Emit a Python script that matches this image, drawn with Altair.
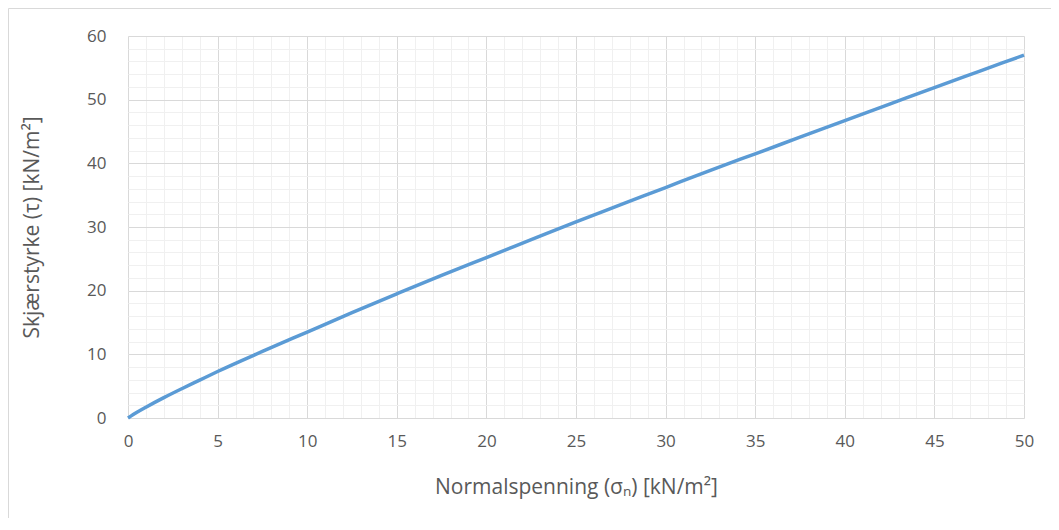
import altair as alt
import pandas as pd

# Data
sigma = [0, 0.5, 1, 2, 3, 4, 5, 7.5, 10, 12.5, 15, 17.5, 20, 22.5, 25, 27.5,
         30, 32.5, 35, 37.5, 40, 42.5, 45, 47.5, 50]
tau = [0, 0.9, 1.7, 3.2, 4.6, 5.95, 7.3, 10.45, 13.5, 16.55, 19.5, 22.4, 25.2, 28.0,
       30.8, 33.5, 36.2, 38.9, 41.5, 44.1, 46.7, 49.3, 51.9, 54.45, 57.0]

x_major = [0, 5, 10, 15, 20, 25, 30, 35, 40, 45, 50]
y_major = [0, 10, 20, 30, 40, 50, 60]
x_minor = list(range(0, 51, 1))
y_minor = list(range(0, 61, 2))

df = pd.DataFrame({"sigma": sigma, "tau": tau})

FONT = "Open Sans"
TEXT = "#595959"

xscale = alt.Scale(domain=[0, 50], nice=False, zero=False)
yscale = alt.Scale(domain=[0, 60], nice=False, zero=False)

minor = alt.Chart(df).mark_line(opacity=0).encode(
    x=alt.X("sigma:Q", scale=xscale,
            axis=alt.Axis(values=x_minor, grid=True, gridColor="#f0f0f0", gridWidth=1,
                          labels=False, ticks=False, domain=False, title=None, orient="top")),
    y=alt.Y("tau:Q", scale=yscale,
            axis=alt.Axis(values=y_minor, grid=True, gridColor="#f0f0f0", gridWidth=1,
                          labels=False, ticks=False, domain=False, title=None, orient="right")),
)

main = alt.Chart(df).mark_line(color="#5b9bd5", strokeWidth=3.5, interpolate="monotone").encode(
    x=alt.X("sigma:Q", scale=xscale,
            axis=alt.Axis(values=x_major, grid=True, gridColor="#d9d9d9", gridWidth=1,
                          ticks=False, domain=False, orient="bottom", labelFlush=False,
                          labelFont=FONT, labelFontSize=17, labelColor=TEXT, labelPadding=15,
                          title="Normalspenning (σₙ) [kN/m²]",
                          titleFont=FONT, titleFontSize=21, titleFontWeight="normal",
                          titleColor=TEXT, titlePadding=27)),
    y=alt.Y("tau:Q", scale=yscale,
            axis=alt.Axis(values=y_major, grid=True, gridColor="#d9d9d9", gridWidth=1,
                          ticks=False, domain=False, orient="left", labelFlush=False,
                          labelFont=FONT, labelFontSize=17, labelColor=TEXT, labelPadding=22,
                          title="Skjærstyrke (τ) [kN/m²]",
                          titleFont=FONT, titleFontSize=21, titleFontWeight="normal",
                          titleColor=TEXT, titlePadding=44)),
)

frame_df = pd.DataFrame({"k": [0]})
left_border = alt.Chart(frame_df).mark_rule(color="#d9d9d9", strokeWidth=1).encode(
    x=alt.value(-119.5), y=alt.value(-27.5), y2=alt.value(520)
)
top_border = alt.Chart(frame_df).mark_rule(color="#d9d9d9", strokeWidth=1).encode(
    x=alt.value(-119.5), x2=alt.value(940), y=alt.value(-27.5)
)

chart = (
    alt.layer(minor, main, left_border, top_border)
    .resolve_axis(x="independent", y="independent")
    .properties(width=896, height=382,
                autosize=alt.AutoSizeParams(type="none"),
                padding={"left": 120, "top": 28, "right": 27, "bottom": 100})
    .configure_view(stroke="#d9d9d9", strokeWidth=1)
    .configure(background="white")
)

chart.save("out.html", embed_options={"renderer": "svg", "actions": False})
